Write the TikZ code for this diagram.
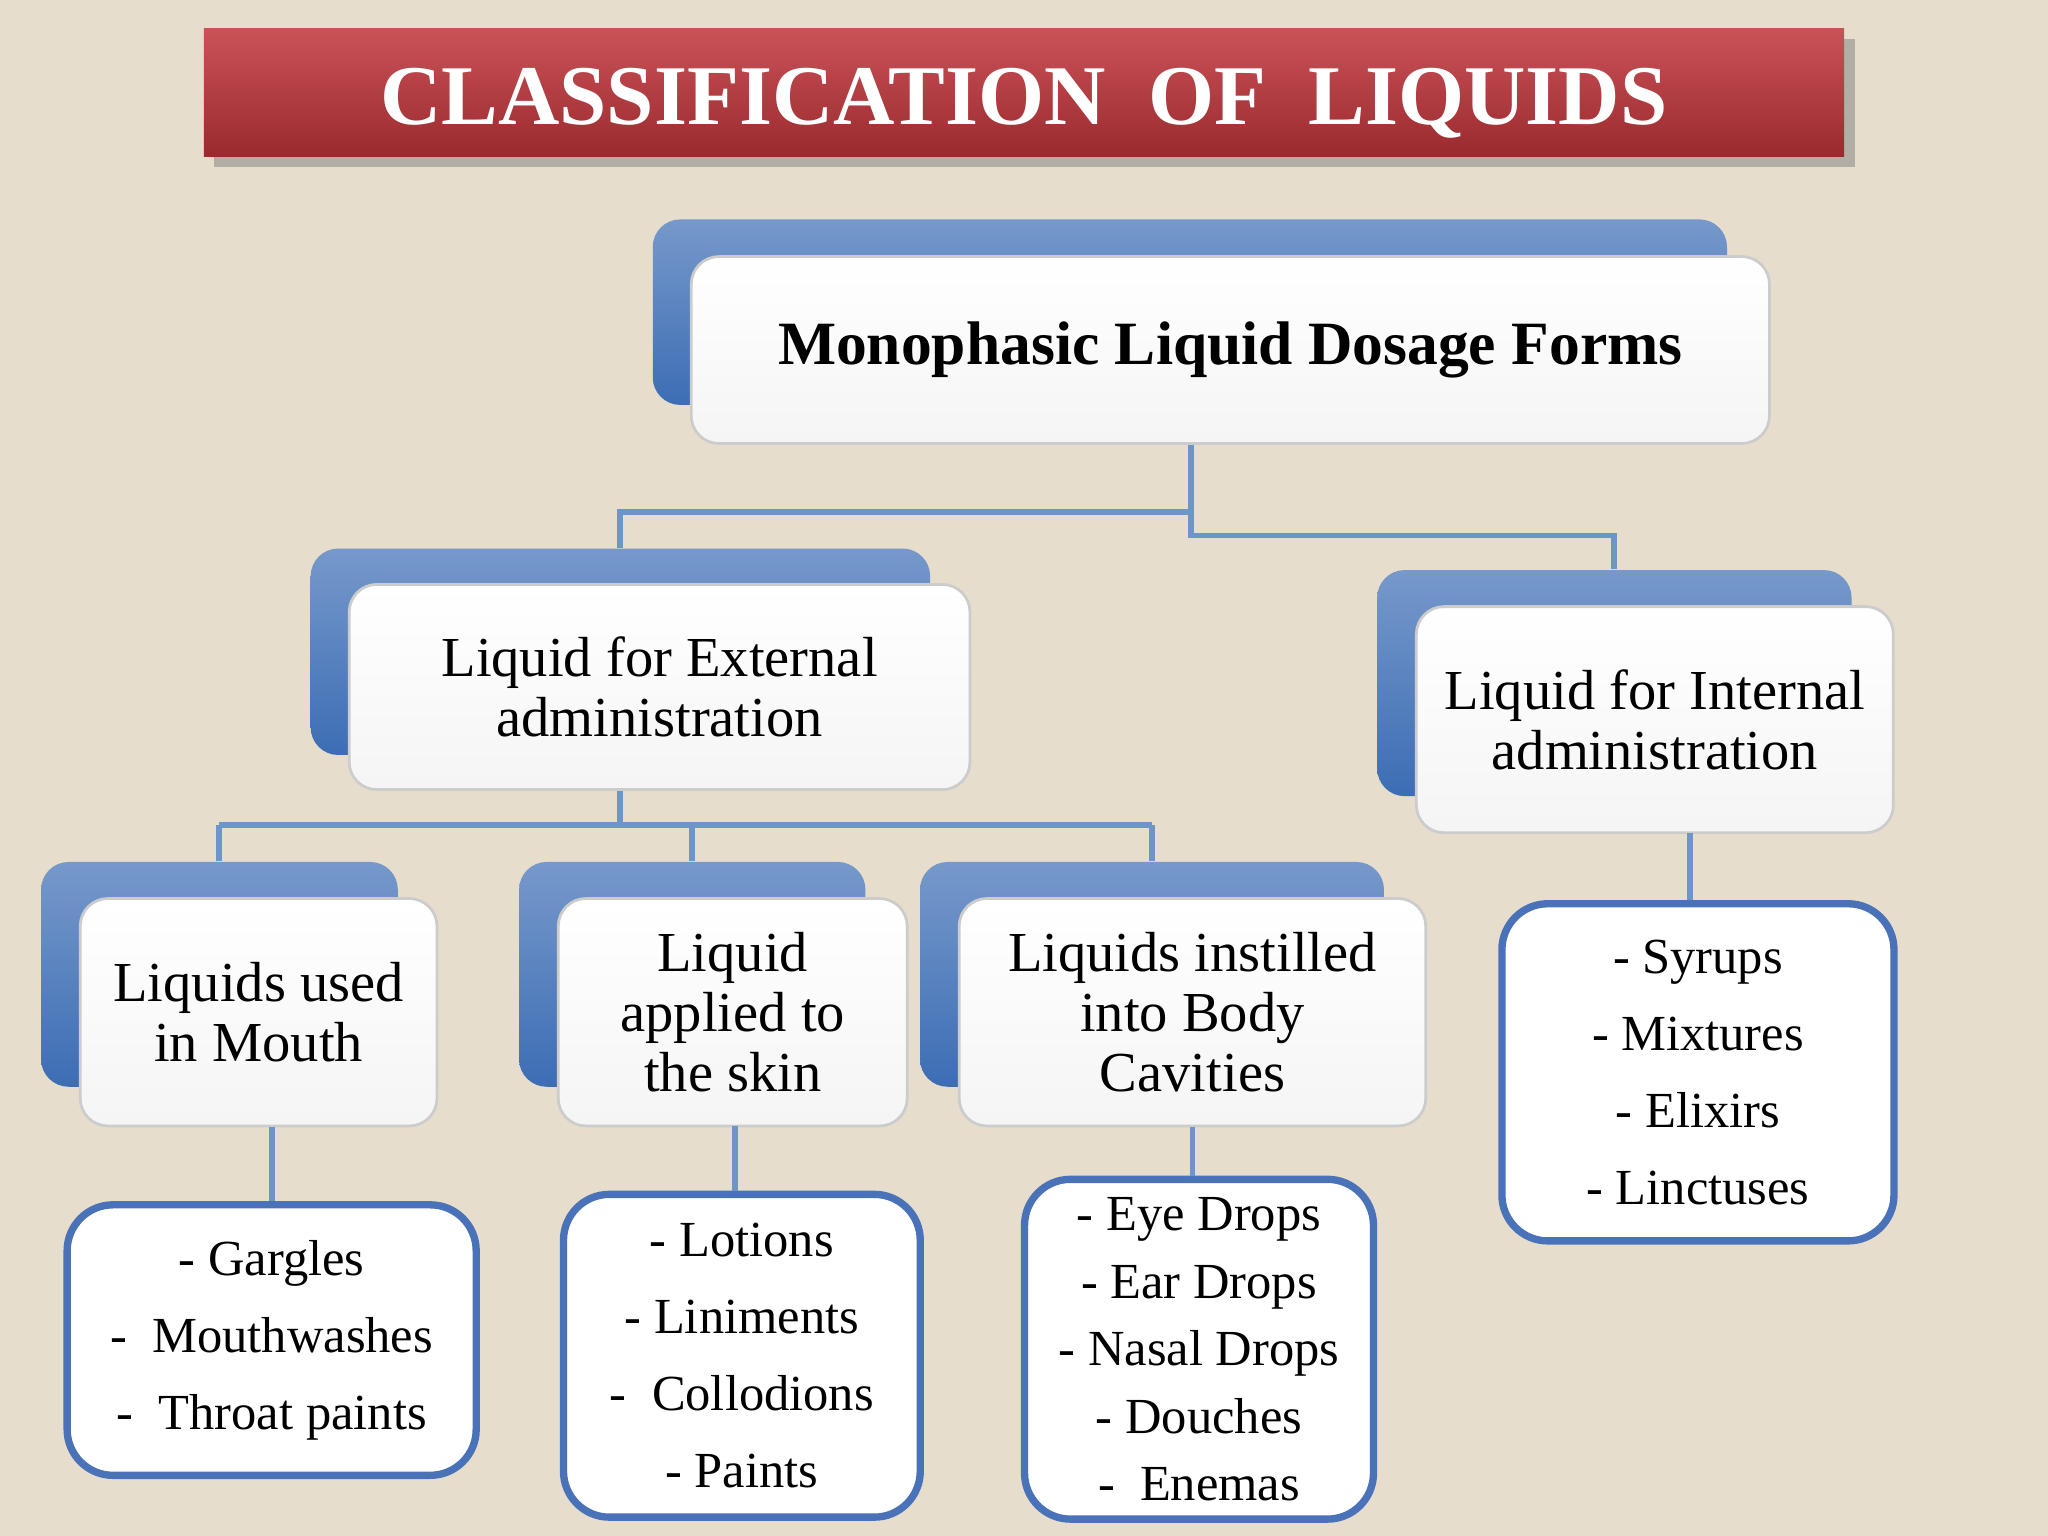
\documentclass[tikz,border=0pt]{standalone}
\usepackage{fontspec}
\setmainfont{Liberation Serif}
\usetikzlibrary{shadows}
\definecolor{bg}{HTML}{E6DDCC}
\definecolor{backblue}{HTML}{3C6DB4}
\definecolor{lineblue}{HTML}{6E95C8}
\definecolor{listblue}{HTML}{4A72B8}
\definecolor{titlered}{HTML}{C0343A}
\tikzset{
  back/.style={draw=none, rounded corners=6pt, top color=backblue!70!white, bottom color=backblue},
  front/.style={draw=gray!40, line width=0.6pt, rounded corners=6pt, top color=white, bottom color=gray!8!white, align=center, font=\fontsize{12.3}{13}\selectfont},
  listbox/.style={draw=listblue, line width=1.6pt, rounded corners=10pt, fill=white, align=center, font=\fontsize{11}{16.8}\selectfont},
  conn/.style={draw=lineblue, line width=1.3pt}
}
\begin{document}
\begin{tikzpicture}[x=0.01cm,y=-0.01cm]
\fill[bg] (0,0) rectangle (1568,1176);
\useasboundingbox (0,0) rectangle (1568,1176);
% title
\node[minimum width=12.55cm, minimum height=0.98cm, inner sep=0pt, top color=titlered!85!white, bottom color=titlered!80!black, drop shadow, text=white, font=\fontsize{18.5}{20}\bfseries\selectfont, text height=0.48cm, text depth=0pt] (title) at (784,71) {CLASSIFICATION\ \ OF\ \ LIQUIDS};
% Monophasic
\node[back, minimum width=8.22cm, minimum height=1.42cm] (mb) at (911,239) {};
\node[front, minimum width=8.25cm, minimum height=1.43cm, font=\fontsize{13.4}{16}\bfseries\selectfont] (mono) at (942,268) {Monophasic Liquid Dosage Forms};
% External
\node[back, minimum width=4.74cm, minimum height=1.58cm] (eb) at (475,499) {};
\node[front, minimum width=4.75cm, minimum height=1.57cm] (ext) at (505,526) {Liquid for External\\administration};
% Internal
\node[back, minimum width=3.63cm, minimum height=1.73cm] (ib) at (1236,523) {};
\node[front, minimum width=3.65cm, minimum height=1.73cm] (int) at (1267,551) {Liquid for Internal\\administration};
% Mouth
\node[back, minimum width=2.73cm, minimum height=1.72cm] (mob) at (168,746) {};
\node[front, minimum width=2.73cm, minimum height=1.74cm] (mouth) at (198,775) {Liquids used\\in Mouth};
% Skin
\node[back, minimum width=2.65cm, minimum height=1.72cm] (sb) at (530,746) {};
\node[front, minimum width=2.67cm, minimum height=1.74cm] (skin) at (561,775) {Liquid\\applied to\\the skin};
% Cavities
\node[back, minimum width=3.55cm, minimum height=1.72cm] (cb) at (882,746) {};
\node[front, minimum width=3.57cm, minimum height=1.74cm] (cav) at (913,775) {Liquids instilled\\into Body\\Cavities};
% lists
\node[listbox, minimum width=3.13cm, minimum height=2.07cm] (l1) at (208,1026) {- Gargles\\ -\ \ Mouthwashes\\ -\ \ Throat paints};
\node[listbox, minimum width=2.73cm, minimum height=2.47cm] (l2) at (568,1038) {- Lotions\\- Liniments\\-\ \ Collodions\\- Paints};
\node[listbox, minimum width=2.67cm, minimum height=2.6cm, font=\fontsize{11}{14.7}\selectfont] (l3) at (918,1033) {- Eye Drops\\- Ear Drops\\- Nasal Drops\\- Douches\\-\ \ Enemas};
\node[listbox, minimum width=3.0cm, minimum height=2.58cm] (l4) at (1300,821) {- Syrups\\- Mixtures\\- Elixirs\\- Linctuses};
% connectors
\coordinate (m1) at (912,392);
\coordinate (m2) at (912,410);
\draw[conn] (mono.south -| m1) -- (m2) -- (m2 -| ib.north) -- (ib.north);
\draw[conn] (m1) -- (m1 -| eb.north) -- (eb.north);
\coordinate (e1) at (475,632);
\draw[conn] (ext.south -| e1) -- (e1);
\draw[conn] (e1 -| mob.north) -- (e1 -| cb.north);
\draw[conn] (e1 -| mob.north) -- (mob.north);
\draw[conn] (e1 -| sb.north) -- (sb.north);
\draw[conn] (e1 -| cb.north) -- (cb.north);
\draw[conn] (mouth.south -| l1.north) -- (l1.north);
\coordinate (s1) at (563,862);
\draw[conn] (s1) -- (s1 |- l2.north);
\draw[conn] (cav.south) -- (cav.south |- l3.north);
\coordinate (i1) at (1294,638);
\draw[conn] (i1) -- (i1 |- l4.north);
\end{tikzpicture}
\end{document}
